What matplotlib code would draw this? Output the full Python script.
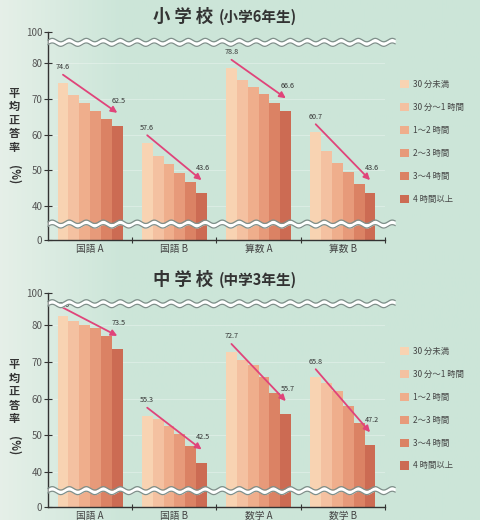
import numpy as np
import matplotlib
matplotlib.use('Agg')
import matplotlib.pyplot as plt
from matplotlib.patches import Patch

plt.rcParams['font.family'] = ['Noto Sans CJK JP', 'DejaVu Sans']

# study time per day (legend order, light -> dark)
study_time = ['30 分未満', '30 分～1 時間', '1～2 時間', '2～3 時間', '3～4 時間', '4 時間以上']
bar_colors = ['#f8d3b2', '#f4c1a1', '#efae8c', '#e79a7a', '#db8264', '#cc6b53']

# 小学校 (6年生): average correct-answer rate per subject, one value per study-time band
elem_subjects = ['国語 A', '国語 B', '算数 A', '算数 B']
elem_rates = [
    [74.6, 71.1, 69.0, 66.7, 64.4, 62.5],
    [57.6, 54.1, 51.6, 49.2, 46.7, 43.6],
    [78.8, 75.3, 73.4, 71.3, 68.8, 66.6],
    [60.7, 55.4, 52.1, 49.5, 46.2, 43.6],
]

# 中学校 (3年生)
junior_subjects = ['国語 A', '国語 B', '数学 A', '数学 B']
junior_rates = [
    [82.6, 81.3, 80.2, 79.3, 77.2, 73.5],
    [55.3, 54.3, 52.5, 50.2, 47.0, 42.5],
    [72.7, 70.6, 69.2, 66.0, 61.5, 55.7],
    [65.8, 64.3, 62.0, 57.9, 53.3, 47.2],
]

y_ticks = [0, 40, 50, 60, 70, 80, 100]

# broken axis: squeeze 0-35 and 85-100
seg_in = [0, 35, 85, 100]
seg_out = [30.4, 35, 85, 88.8]


def fwd(v):
    return np.interp(v, seg_in, seg_out)


def inv(u):
    return np.interp(u, seg_out, seg_in)


fig = plt.figure(figsize=(4.81, 5.2), dpi=100)

# soft mint background, a little paler on the left
bg = fig.add_axes([0, 0, 1, 1], zorder=-10)
grad = np.linspace(0, 1, 256)
grad = np.clip(grad / 0.25, 0, 1)
c0 = np.array([0.90, 0.94, 0.91])
c1 = np.array([0.80, 0.90, 0.85])
img = c0[None, :] * (1 - grad[:, None]) + c1[None, :] * grad[:, None]
bg.imshow(img[None, :, :], aspect='auto', extent=[0, 1, 0, 1])
bg.axis('off')

bar_w = 0.129
offsets = (np.arange(6) - 2.5) * bar_w
arrow_col = '#e0447a'


def wave(ax, v, h_px):
    # double wavy break line across the axes
    yf = ax.transLimits.transform(ax.transScale.transform((0, v)))[1]
    w_px = ax.bbox.width
    x = np.linspace(0, 1.03, 600)
    lam = 17.0 / w_px
    amp = 1.7 / h_px
    gap = 2.3 / h_px
    s = amp * np.sin(2 * np.pi * x / lam)
    lo = yf - gap + s
    hi = yf + gap + s
    ax.fill_between(x, lo, hi, color='white', transform=ax.transAxes,
                    clip_on=False, zorder=5, lw=0)
    ax.plot(x, lo, color='#7f8f8a', lw=0.9, transform=ax.transAxes, clip_on=False, zorder=6)
    ax.plot(x, hi, color='#7f8f8a', lw=0.9, transform=ax.transAxes, clip_on=False, zorder=6)


def draw_panel(rect, subjects, rates, title_main, title_sub, title_y, ylab_y, legend_y):
    ax = fig.add_axes(rect)
    ax.set_facecolor('none')
    ax.set_yscale('function', functions=(fwd, inv))
    ax.set_ylim(0, 100)
    ax.set_xlim(-0.5, 3.5)

    for k in range(6):
        vals = [r[k] for r in rates]
        ax.bar(np.arange(4) + offsets[k], vals, width=bar_w, color=bar_colors[k],
               lw=0, zorder=2)

    for g, r in enumerate(rates):
        x1 = g + offsets[0]
        x6 = g + offsets[5]
        ax.annotate('', xy=(x6, r[5] + 3.6), xytext=(x1, r[0] + 2.2),
                    arrowprops=dict(arrowstyle='-|>', color=arrow_col, lw=1.3,
                                    mutation_scale=9, shrinkA=0, shrinkB=0),
                    zorder=4)
        ax.text(x1, r[0] + 4.3, f'{r[0]:.1f}', fontsize=5.2, color='#333333',
                ha='center', va='center', zorder=4)
        ax.text(x6 + 0.02, r[5] + 7.0, f'{r[5]:.1f}', fontsize=5.2, color='#333333',
                ha='center', va='center', zorder=4)

    for v in [40, 50, 60, 70, 80]:
        ax.axhline(v, color='white', alpha=0.35, lw=0.6, zorder=1)

    for s in ['top', 'right']:
        ax.spines[s].set_visible(False)
    for s in ['left', 'bottom']:
        ax.spines[s].set_color('#333333')
        ax.spines[s].set_linewidth(1.0)

    ax.set_yticks(y_ticks)
    ax.set_yticklabels([str(t) for t in y_ticks])
    ax.tick_params(axis='y', direction='inout', length=6, width=0.8, colors='#333333',
                   labelsize=7, labelcolor='#555555', pad=1)
    ax.set_xticks([0.5, 1.5, 2.5, 3.5])
    ax.set_xticklabels([])
    ax.tick_params(axis='x', which='major', direction='inout', length=5, width=0.8,
                   colors='#333333')
    ax.set_xticks(np.arange(4), minor=True)
    ax.set_xticklabels(subjects, minor=True)
    ax.tick_params(axis='x', which='minor', length=0, labelsize=7, labelcolor='#444444', pad=3)

    h_px = ax.bbox.height
    wave(ax, 88.5, h_px)
    wave(ax, 34.0, h_px)

    fig.text(0.443, title_y, title_main, fontsize=12.5, fontweight='bold', color='#333333',
             ha='right', va='center')
    fig.text(0.455, title_y, title_sub, fontsize=10.5, fontweight='bold', color='#333333',
             ha='left', va='center')

    fig.text(0.029, ylab_y, '平\n均\n正\n答\n率', fontsize=8, fontweight='bold',
             color='#333333', ha='center', va='top', linespacing=1.05)
    fig.text(0.029, ylab_y - 0.15, '(%)', fontsize=8, fontweight='bold', color='#333333',
             ha='center', va='top', rotation=270)

    handles = [Patch(facecolor=c, edgecolor='none', label=l) for c, l in zip(bar_colors, study_time)]
    fig.legend(handles=handles, loc='upper left', bbox_to_anchor=(0.832, legend_y),
               frameon=False, fontsize=6, handlelength=1.0, handleheight=1.15,
               handletextpad=0.5, labelspacing=1.67, borderpad=0, borderaxespad=0,
               labelcolor='#444444')
    return ax


draw_panel([0.0998, 0.5385, 0.7006, 0.400], elem_subjects, elem_rates,
           '小 学 校', '(小学6年生)', 0.967, 0.833, 0.846)
draw_panel([0.0998, 0.025, 0.7006, 0.4115], junior_subjects, junior_rates,
           '中 学 校', '(中学3年生)', 0.4615, 0.311, 0.333)

fig.savefig('out.png', dpi=100)
